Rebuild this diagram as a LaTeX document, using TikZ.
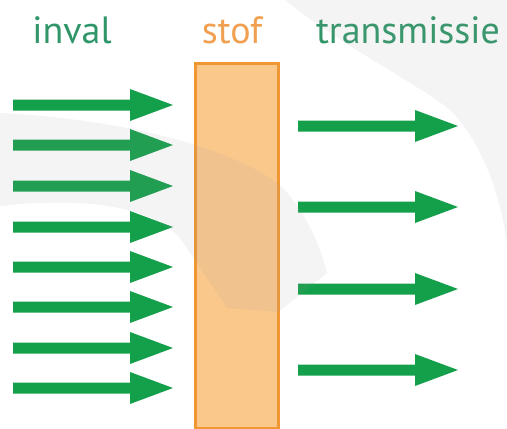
\documentclass[tikz,border=0pt]{standalone}
\usepackage{fontspec}
\setmainfont{PT Sans}
\definecolor{arrowgreen}{RGB}{20,160,75}
\definecolor{textgreen}{RGB}{48,150,105}
\definecolor{textorange}{RGB}{240,160,80}
\definecolor{slabfill}{RGB}{251,200,140}
\definecolor{slabdraw}{RGB}{240,150,50}
\definecolor{markgray}{RGB}{150,150,150}
\tikzset{
  label/.style={anchor=base, inner sep=0pt, font=\fontsize{38}{42}\selectfont},
  ray/.style={fill=arrowgreen},
  slab/.style={fill=slabfill, draw=slabdraw, line width=3pt},
  watermark/.style={fill=markgray, fill opacity=0.1},
}
\newcommand{\rayarrow}[3]{% x start, x head base, y
  \fill[ray] (#1,#3-5.5) -- (#2,#3-5.5) -- (#2,#3-16) -- (#2+43,#3) -- (#2,#3+16) -- (#2,#3+5.5) -- (#1,#3+5.5) -- cycle;}
\begin{document}
\begin{tikzpicture}[x=1pt,y=-1pt]
\fill[white] (0,0) rectangle (507,429);
\useasboundingbox (0,0) rectangle (507,429);
% labels
\node[label, text=textgreen] (inval) at (72,43) {inval};
\node[label, text=textorange] (stof) at (232,43) {stof};
\node[label, text=textgreen] (trans) at (408,43) {transmissie};
% slab
\node[slab, minimum width=83pt, minimum height=365pt, inner sep=0pt] (slab) at (236.5,245.5) {};
% incident arrows
\foreach \y in {105,145,186,227,267,307,348,388} {\rayarrow{13}{130}{\y}}
% transmitted arrows
\foreach \y in {126,207,289,370} {\rayarrow{298}{415}{\y}}
% faint watermark swooshes
\fill[watermark] (0,113) .. controls (100,118) and (220,140) .. (280,185)
  .. controls (305,210) and (320,245) .. (327,273)
  -- (278,312) -- (227,308) -- (180,238)
  .. controls (150,205) and (80,197) .. (0,206) -- cycle;
\fill[watermark] (285,0) .. controls (340,45) and (420,85) .. (450,110)
  .. controls (480,140) and (500,190) .. (507,245) -- (507,0) -- cycle;
\end{tikzpicture}
\end{document}
